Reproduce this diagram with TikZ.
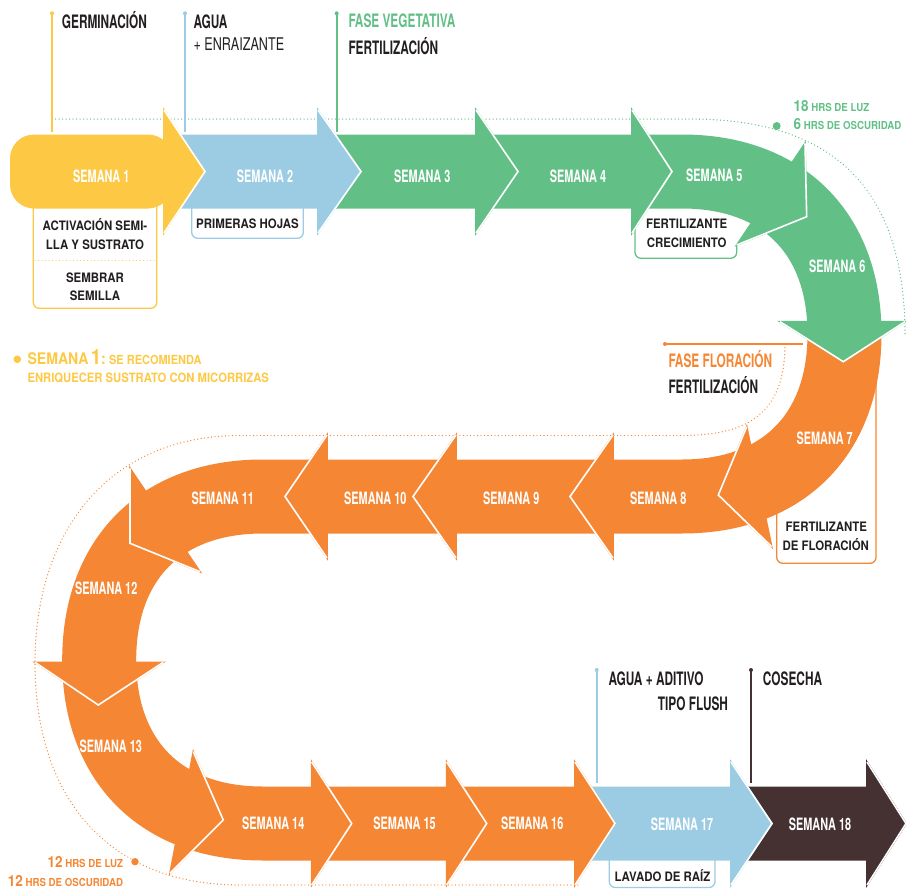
\documentclass[tikz,border=0pt]{standalone}
\usepackage{fontspec}
\usetikzlibrary{calc}
\newfontfamily\bebas[FakeStretch=0.64]{TeX Gyre Heros}
\newfontfamily\bebasthin[FakeStretch=0.72]{TeX Gyre Heros}
\newfontfamily\din[FakeStretch=0.88]{TeX Gyre Heros}

\definecolor{semyellow}{HTML}{FDC945}
\definecolor{semblue}{HTML}{9BCCE4}
\definecolor{semgreen}{HTML}{62C087}
\definecolor{semorange}{HTML}{F58734}
\definecolor{sembrown}{HTML}{453132}
\definecolor{ink}{HTML}{231F20}

% centre line of the whole band
\newcommand\bandline{(0,171.5) -- (682,171.5) .. controls (782.75,171.5) and (844.5,233.25) .. (844.5,334) .. controls (844.5,434.75) and (782.75,496.5) .. (682,496.5) -- (262.7,496.5) .. controls (161.3,496.5) and (99.2,558.6) .. (99.2,660) .. controls (99.2,761.4) and (161.3,823.5) .. (262.7,823.5) -- (920,823.5)}

% arrow head of week #2 in colour #1
\newcommand\weekhead[2]{%
  \filldraw[#1, line width=1.6pt] (c#2a) -- (t#2) -- (c#2b) -- cycle;
  \draw[white, line width=1.6pt] (c#2a) -- (t#2) -- (c#2b);
}
% piece of band between cut #2 and cut #3, then its head
\newcommand\weekseg[3]{%
  \begin{scope}
    \clip ($(c#2a)!-0.5!(c#2b)$) -- ($(c#2b)!-0.5!(c#2a)$) -- ($(c#3b)!-0.5!(c#3a)$) -- ($(c#3a)!-0.5!(c#3b)$) -- cycle;
    \draw[#1, line width=74pt] \bandline;
  \end{scope}
  \weekhead{#1}{#3}
}

\tikzset{
  week/.style={text=white, font=\bebas\bfseries\fontsize{17}{18}\selectfont, anchor=base, inner sep=0pt},
  phase/.style={font=\bebas\bfseries\fontsize{18.5}{20}\selectfont, anchor=base west, inner sep=0pt},
  boxtext/.style={text=ink, font=\din\bfseries\fontsize{13}{15}\selectfont, anchor=base, inner sep=0pt},
  hours/.style={font=\din\bfseries\fontsize{11}{12}\selectfont, inner sep=0pt},
  marker/.style={line width=1.8pt},
  memo/.style={line width=1.3pt, rounded corners=6pt},
  lightpath/.style={line width=1.3pt, line cap=round, dash pattern=on 0.1pt off 3.4pt},
}

\begin{document}
\begin{tikzpicture}[x=1pt, y=-1pt]
\useasboundingbox (0,0) rectangle (906,889);

% light cycle paths
\draw[lightpath, semgreen] (52,119) -- (690,119) .. controls (840,119) and (905,195) .. (905,335);
\draw[lightpath, semorange] (785,344) .. controls (785,420) and (740,435.5) .. (680,435.5) -- (240,435.5) .. controls (110,435.5) and (35,530) .. (35,663) .. controls (35,800) and (110,885) .. (240,885) -- (578,885);
\fill[semgreen] (776.7,126) circle[radius=4];
\fill[semorange] (135,861.7) circle[radius=3.7];

% markers
\draw[marker, semyellow] (52,13.3) -- (52,131.7);
\fill[semyellow] (52,13.3) circle[radius=2];
\draw[marker, semblue] (185,13.3) -- (185,131.7);
\fill[semblue] (185,13.3) circle[radius=2];
\draw[marker, semgreen] (336.7,13.3) -- (336.7,131.7);
\fill[semgreen] (336.7,13.3) circle[radius=2];
\draw[marker, semorange] (665,344) -- (803,344);
\fill[semorange] (665,344) circle[radius=2];
\draw[marker, semblue] (596.7,670) -- (596.7,783.3);
\fill[semblue] (596.7,670) circle[radius=2];
\draw[marker, sembrown] (751,670) -- (751,783.3);
\fill[sembrown] (751,670) circle[radius=2];

% note boxes
\draw[memo, semyellow] (33.3,200) -- (33.3,308.3) -- (156.7,308.3) -- (156.7,200);
\draw[lightpath, semyellow, line width=1pt] (35,260) -- (155,260);
\draw[memo, semblue] (191.7,200) -- (191.7,238.3) -- (303.3,238.3) -- (303.3,200);
\draw[memo, semgreen] (635,200) -- (635,258.3) -- (736.7,258.3) -- (736.7,244);
\draw[memo, semorange] (776.7,470) -- (776.7,563.3) -- (876,563.3) -- (876,370);
\draw[memo, semblue] (609.3,850) -- (609.3,887.5) -- (715,887.5) -- (715,850);

% cuts between weeks: a, b = ends of the head base, t = tip
\coordinate (c1a) at (164,110);    \coordinate (c1b) at (164,233);    \coordinate (t1) at (205,171.5);
\coordinate (c2a) at (318,110);    \coordinate (c2b) at (318,233);    \coordinate (t2) at (361,171.5);
\coordinate (c3a) at (476,110);    \coordinate (c3b) at (476,233);    \coordinate (t3) at (518,171.5);
\coordinate (c4a) at (632,110);    \coordinate (c4b) at (632,233);    \coordinate (t4) at (672,171.5);
\coordinate (c5a) at (805,143.3);  \coordinate (c5b) at (736.7,245);  \coordinate (t5) at (806.7,216.7);
\coordinate (c6a) at (905,321.7);  \coordinate (c6b) at (780,321.7);  \coordinate (t6) at (843.3,361.7);
\coordinate (c7a) at (771.7,546.7);\coordinate (c7b) at (746.7,426.7);\coordinate (t7) at (718.3,495);
\coordinate (c8a) at (613,558);    \coordinate (c8b) at (613,435);    \coordinate (t8) at (570,496.5);
\coordinate (c9a) at (456,558);    \coordinate (c9b) at (456,435);    \coordinate (t9) at (413,496.5);
\coordinate (c10a) at (327,558);   \coordinate (c10b) at (327,435);   \coordinate (t10) at (285,496.5);
\coordinate (c11a) at (200,571.7); \coordinate (c11b) at (130,468.3); \coordinate (t11) at (130,543.3);
\coordinate (c12a) at (163.3,662.3);\coordinate (c12b) at (35,662.3); \coordinate (t12) at (98.3,705);
\coordinate (c13a) at (193.3,751.7);\coordinate (c13b) at (170,873.3);\coordinate (t13) at (223.3,820);
\coordinate (c14a) at (311.7,762); \coordinate (c14b) at (311.7,885); \coordinate (t14) at (351.7,823.5);
\coordinate (c15a) at (446.7,762); \coordinate (c15b) at (446.7,885); \coordinate (t15) at (486.7,823.5);
\coordinate (c16a) at (575,762);   \coordinate (c16b) at (575,885);   \coordinate (t16) at (615,823.5);
\coordinate (c17a) at (731,762);   \coordinate (c17b) at (731,885);   \coordinate (t17) at (772,823.5);
\coordinate (c18a) at (867,762);   \coordinate (c18b) at (867,885);   \coordinate (t18) at (906,823.5);

% weeks, last one first
\weekseg{sembrown}{17}{18}
\weekseg{semblue}{16}{17}
\weekseg{semorange}{15}{16}
\weekseg{semorange}{14}{15}
\weekseg{semorange}{13}{14}
\weekseg{semorange}{12}{13}
\weekseg{semorange}{11}{12}
\weekseg{semorange}{10}{11}
\weekseg{semorange}{9}{10}
\weekseg{semorange}{8}{9}
\weekseg{semorange}{7}{8}
\weekseg{semorange}{6}{7}
\weekseg{semgreen}{5}{6}
\weekseg{semgreen}{4}{5}
\weekseg{semgreen}{3}{4}
\weekseg{semgreen}{2}{3}
\weekseg{semblue}{1}{2}
\fill[semyellow, rounded corners=24pt] (10,134.5) rectangle (172,208.5);
\weekhead{semyellow}{1}

% week labels
\node[week] (w1) at (101.3,182.3) {SEMANA 1};
\node[week] (w2) at (265,182.3) {SEMANA 2};
\node[week] (w3) at (422.3,182.3) {SEMANA 3};
\node[week] (w4) at (578,182.3) {SEMANA 4};
\node[week] (w5) at (714.3,181.7) {SEMANA 5};
\node[week] (w6) at (837.3,272.3) {SEMANA 6};
\node[week] (w7) at (824.7,444) {SEMANA 7};
\node[week] (w8) at (658.3,504) {SEMANA 8};
\node[week] (w9) at (511.3,504) {SEMANA 9};
\node[week] (w10) at (375.3,504) {SEMANA 10};
\node[week] (w11) at (222.8,504) {SEMANA 11};
\node[week] (w12) at (106.2,594) {SEMANA 12};
\node[week] (w13) at (110.8,752.3) {SEMANA 13};
\node[week] (w14) at (273.2,829) {SEMANA 14};
\node[week] (w15) at (404.5,829) {SEMANA 15};
\node[week] (w16) at (532.2,829) {SEMANA 16};
\node[week] (w17) at (682,830) {SEMANA 17};
\node[week] (w18) at (820,830) {SEMANA 18};

% phase titles
\node[phase, text=ink] (germ) at (61.7,28.3) {GERMINACIÓN};
\node[phase, text=ink] (agua) at (193.3,28.3) {AGUA};
\node[anchor=base west, inner sep=0pt, text=ink, font=\bebasthin\fontsize{17.5}{19}\selectfont] (enraiz) at (193.3,50) {+ ENRAIZANTE};
\node[phase, text=semgreen] (veget) at (348.3,27.7) {FASE VEGETATIVA};
\node[phase, text=ink] (fertveg) at (348.3,54) {FERTILIZACIÓN};
\node[phase, text=semorange] (flora) at (668.3,367.3) {FASE FLORACIÓN};
\node[phase, text=ink] (fertflo) at (668.3,393.3) {FERTILIZACIÓN};
\node[phase, text=ink] (flush1) at (608.3,685) {AGUA + ADITIVO};
\node[phase, text=ink] (flush2) at (657.7,710) {TIPO FLUSH};
\node[phase, text=ink] (cosecha) at (762.7,685) {COSECHA};

% box texts
\node[boxtext] (act1) at (95,230) {ACTIVACIÓN SEMI-};
\node[boxtext] (act2) at (95,249.3) {LLA Y SUSTRATO};
\node[boxtext] (siem1) at (95,282.7) {SEMBRAR};
\node[boxtext] (siem2) at (95,300.7) {SEMILLA};
\node[boxtext] (hojas) at (247.5,228.3) {PRIMERAS HOJAS};
\node[boxtext] (crec1) at (686.7,228.3) {FERTILIZANTE};
\node[boxtext] (crec2) at (686.7,247.3) {CRECIMIENTO};
\node[boxtext] (flor1) at (826.3,531.7) {FERTILIZANTE};
\node[boxtext] (flor2) at (825.8,550.7) {DE FLORACIÓN};
\node[boxtext] (lavado) at (662.5,881) {LAVADO DE RAÍZ};

% hours of light
\node[hours, text=semgreen, anchor=base west] (luz18) at (793.5,111) {{\fontsize{15.3}{16}\selectfont 18} HRS DE LUZ};
\node[hours, text=semgreen, anchor=base west] (osc6) at (793.5,129) {{\fontsize{15.3}{16}\selectfont 6} HRS DE OSCURIDAD};
\node[hours, text=semorange, anchor=base east] (luz12) at (123.3,867.3) {{\fontsize{15.3}{16}\selectfont 12} HRS DE LUZ};
\node[hours, text=semorange, anchor=base east] (osc12) at (123.3,886) {{\fontsize{15.3}{16}\selectfont 12} HRS DE OSCURIDAD};

% tip for week 1
\fill[semyellow] (17.3,359.3) circle[radius=3.8];
\node[anchor=base west, inner sep=0pt, text=semyellow, font=\din\bfseries] (tip1) at (27.3,364) {{\fontsize{16}{18}\selectfont SEMANA} {\fontsize{21}{22}\selectfont 1}{\fontsize{16}{18}\selectfont:} {\fontsize{12.5}{14}\selectfont SE RECOMIENDA}};
\node[anchor=base west, inner sep=0pt, text=semyellow, font=\din\bfseries\fontsize{12.8}{14}\selectfont] (tip2) at (27.3,382.3) {ENRIQUECER SUSTRATO CON MICORRIZAS};
\end{tikzpicture}
\end{document}
